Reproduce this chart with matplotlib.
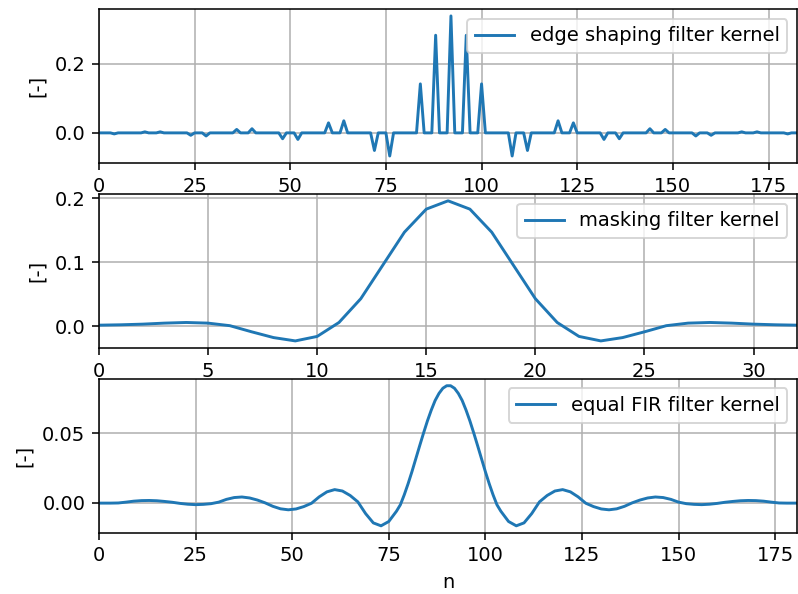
import numpy as np
import matplotlib
matplotlib.use("Agg")
import matplotlib.pyplot as plt

# edge shaping filter (upsampled by 4, only the non-zero taps listed)
edge_len = 185
edge_idx = [4, 12, 16, 24, 28, 36, 40, 48, 52, 60, 64, 72, 76,
            84, 88, 92, 96, 100,
            108, 112, 120, 124, 132, 136, 144, 148, 156, 160, 168, 172, 180]
edge_val = [-0.003, 0.003, 0.003, -0.007, -0.009, 0.010, 0.012, -0.017, -0.019,
            0.029, 0.035, -0.051, -0.067,
            0.142, 0.283, 0.339, 0.283, 0.142,
            -0.067, -0.051, 0.035, 0.029, -0.019, -0.017, 0.012, 0.010,
            -0.009, -0.007, 0.003, 0.003, -0.003]

# masking filter, 33 taps
mask_val = [0.0016, 0.0022, 0.0032, 0.0048, 0.0058, 0.0048, 0.0008, -0.0088,
            -0.0178, -0.0230, -0.0160, 0.0058, 0.0430, 0.0950, 0.1470, 0.1830,
            0.1960,
            0.1830, 0.1470, 0.0950, 0.0430, 0.0058, -0.0160, -0.0230, -0.0178,
            -0.0088, 0.0008, 0.0048, 0.0058, 0.0048, 0.0032, 0.0022, 0.0016]

# equal FIR filter kernel
fir_n = [0, 1, 3, 5, 7, 9, 11, 13, 15, 17, 19, 21, 23, 25, 27, 29, 31, 33, 35,
         37, 39, 41, 43, 45, 47, 49, 51, 53, 55, 57, 59, 61, 63, 65, 67, 69, 71,
         73, 75, 77, 78, 79, 80, 81, 82, 83, 84, 85, 86, 87, 88, 89, 90, 91, 92,
         93, 94, 95, 96, 97, 98, 99, 100, 101, 102, 103, 104, 106, 108, 110,
         112, 114, 116, 118, 120, 122, 124, 126, 128, 130, 132, 134, 136, 138,
         140, 142, 144, 146, 148, 150, 152, 154, 156, 158, 160, 162, 164, 166,
         168, 170, 172, 174, 176, 178, 180, 181]
fir_val = [-0.0002, -0.0002, -0.0002, -0.0001, 0.0005, 0.0012, 0.0016, 0.0017,
           0.0015, 0.0010, 0.0004, -0.0004, -0.0010, -0.0013, -0.0011, -0.0006,
           0.0005, 0.0025, 0.0038, 0.0042, 0.0035, 0.0020, 0.0000, -0.0025,
           -0.0043, -0.0050, -0.0044, -0.0027, -0.0003, 0.0043, 0.0079, 0.0095,
           0.0085, 0.0053, 0.0007, -0.0077, -0.0144, -0.0165, -0.0134, -0.0060,
           -0.0014, 0.0057, 0.0137, 0.0224, 0.0317, 0.0410, 0.0501, 0.0588,
           0.0666, 0.0735, 0.0786, 0.0823, 0.0841, 0.0841, 0.0823, 0.0786,
           0.0735, 0.0666, 0.0588, 0.0501, 0.0410, 0.0317, 0.0224, 0.0137,
           0.0057, -0.0014, -0.0060, -0.0134, -0.0165, -0.0144, -0.0077, 0.0007,
           0.0053, 0.0085, 0.0095, 0.0079, 0.0043, -0.0003, -0.0027, -0.0044,
           -0.0050, -0.0043, -0.0025, 0.0000, 0.0020, 0.0035, 0.0042, 0.0038,
           0.0025, 0.0005, -0.0006, -0.0011, -0.0013, -0.0010, -0.0004, 0.0004,
           0.0010, 0.0015, 0.0017, 0.0016, 0.0012, 0.0005, -0.0001, -0.0002,
           -0.0002, -0.0002]

edge = np.zeros(edge_len)
edge[edge_idx] = edge_val

dpi = 140
fig, axs = plt.subplots(3, 1, figsize=(798 / dpi, 594 / dpi), dpi=dpi)
fig.subplots_adjust(left=0.124, right=0.999, top=0.985, bottom=0.103, hspace=0.2)

axs[0].plot(edge, label='edge shaping filter kernel')
axs[0].set_xlim(0, 182.5)
axs[0].set_ylabel('[-]')
axs[0].grid(True)
axs[0].legend(loc='upper right')

axs[1].plot(mask_val, label='masking filter kernel')
axs[1].set_xlim(0, 32)
axs[1].set_ylabel('[-]')
axs[1].grid(True)
axs[1].legend(loc='upper right')

axs[2].plot(fir_n, fir_val, label='equal FIR filter kernel')
axs[2].set_xlim(0, 180.7)
axs[2].set_ylabel('[-]')
axs[2].set_xlabel('n')
axs[2].grid(True)
axs[2].legend(loc='upper right')

plt.savefig('out.png')
